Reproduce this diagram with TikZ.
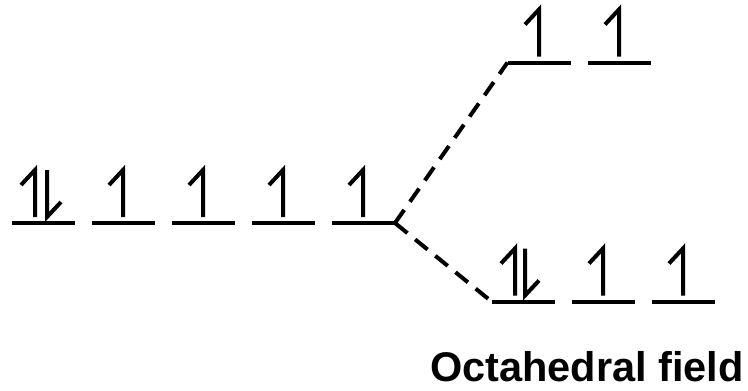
\documentclass[tikz,border=0pt]{standalone}
\usepackage{fontspec}
\setmainfont{Liberation Sans}
\begin{document}
\begin{tikzpicture}[x=1pt,y=-1pt,
  lw/.style={line width=4pt},
  level/.pic={\draw[lw] (-31.5,0) -- (31.5,0);},
  upe/.pic={\draw[lw,line join=miter] (0,-6) -- (0,-53) -- (-14,-38);},
  dne/.pic={\draw[lw,line join=miter] (0,-53) -- (0,-6) -- (14,-21);},
  link/.style={lw,dash pattern=on 16pt off 10pt},
  lab/.style={font=\bfseries\fontsize{41.5}{48}\selectfont,inner sep=0pt,anchor=base west}]
\useasboundingbox (0,0) rectangle (748,391);
% left (free ion) levels
\foreach \c/\n in {43/a,123/b,203/c,283/d,363/e} {
  \pic at (\c,223) {level};
  \coordinate (L\n) at (\c,223);
}
\pic at (35,223) {upe};
\pic at (47,223) {dne};
\foreach \c in {123,203,283,363} \pic at (\c,223) {upe};
\coordinate (split) at (395,223);
% upper levels
\foreach \c in {539,619} {\pic at (\c,62.5) {level}; \pic at (\c,62.5) {upe};}
\coordinate (upper) at (507.5,62.5);
% lower levels
\foreach \c in {523,603,683} \pic at (\c,301.5) {level};
\pic at (515,301.5) {upe};
\pic at (525,301.5) {dne};
\pic at (603,301.5) {upe};
\pic at (683,301.5) {upe};
\coordinate (lower) at (491.5,301.5);
% connectors
\draw[link] (split) -- (upper);
\draw[link] (split) -- (lower);
\node[lab] (title) at (430,381) {Octahedral field};
\end{tikzpicture}
\end{document}
